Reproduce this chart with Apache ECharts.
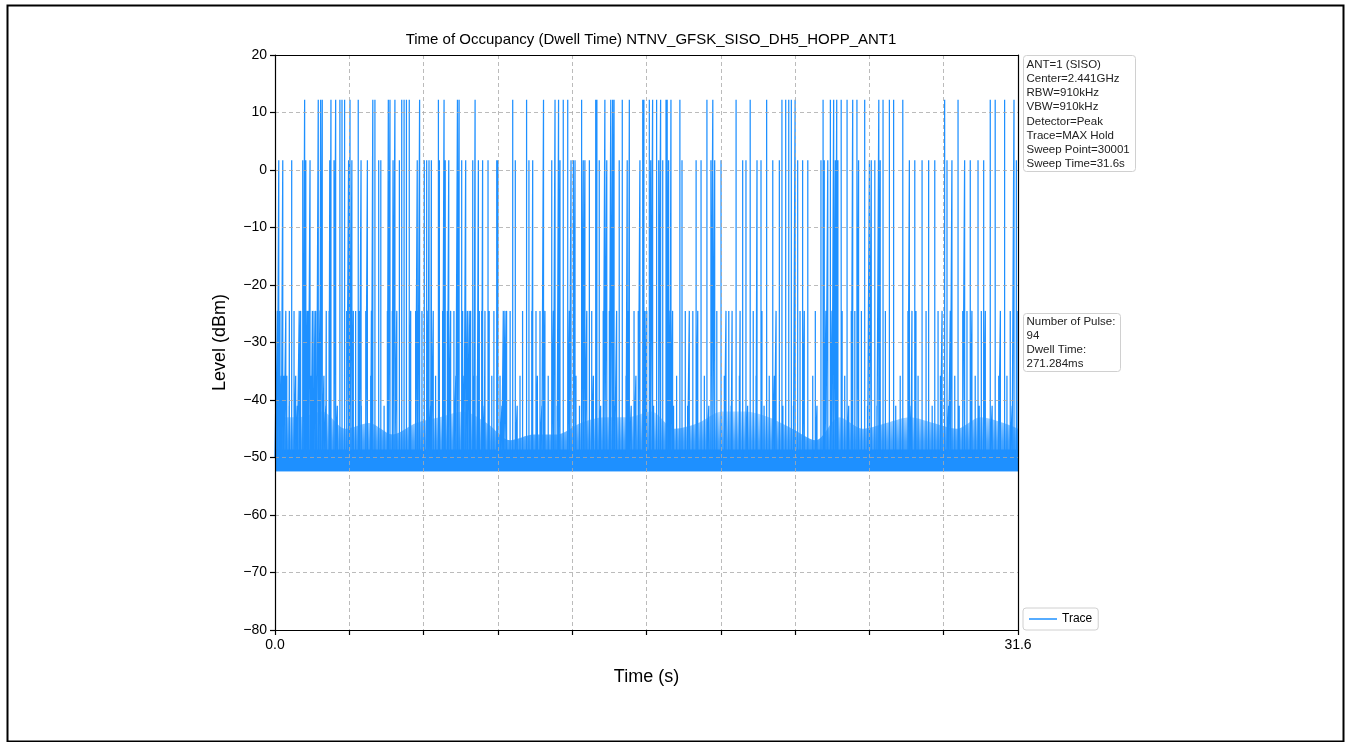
<!DOCTYPE html>
<html><head><meta charset="utf-8">
<script src="https://cdn.jsdelivr.net/npm/echarts@6/dist/echarts.min.js"></script>
<style>html,body{margin:0;padding:0;background:#fff}#c{width:1345px;height:742px}</style>
</head><body><div id="c"></div>
<script>
// ---- data (seconds) ----
const pulses12 = [1.26,1.84,1.94,2.01,2.38,2.58,2.76,2.85,2.96,3.19,3.54,4.16,4.25,4.82,4.89,5.10,5.39,5.49,5.59,5.71,6.15,6.95,7.19,7.76,7.83,8.51,10.11,10.70,11.42,11.91,12.06,12.26,12.45,13.04,13.64,13.69,14.03,14.28,14.36,14.42,14.77,15.07,15.64,15.69,15.92,16.06,16.23,16.40,16.63,16.68,16.84,17.22,18.37,18.62,19.61,20.21,20.91,21.56,21.72,21.85,21.96,22.12,23.31,23.62,23.76,23.89,24.08,24.33,24.57,24.75,25.08,25.68,25.86,26.13,26.31,26.70,28.48,29.05,30.42,30.63,31.03,31.43];
const pulses2 = [0.16,0.33,0.71,1.18,1.31,1.49,2.33,2.51,3.13,3.27,3.66,3.93,4.41,4.50,5.02,5.29,6.05,6.35,6.45,6.55,6.65,6.99,7.24,7.39,7.94,8.11,8.41,8.65,8.83,9.06,9.43,9.48,10.22,10.80,10.96,11.77,12.12,12.59,12.69,12.76,13.11,13.18,13.37,13.79,14.11,14.64,14.98,15.52,15.98,16.32,16.49,16.74,17.31,17.91,18.12,18.54,18.70,18.97,19.89,20.03,20.50,20.67,21.17,21.45,22.23,22.44,22.66,23.22,23.36,23.51,23.83,23.94,24.82,25.28,25.36,25.51,25.74,26.98,27.21,27.52,27.80,28.06,28.58,28.79,29.33,29.57,29.90,30.14,31.53];
const pulses24 = [0.10,0.21,0.46,0.61,0.81,1.03,1.09,1.20,1.37,1.42,1.59,1.66,1.73,1.91,2.18,2.30,3.05,3.33,3.43,3.59,3.86,4.10,4.78,4.99,5.18,5.77,5.98,6.08,6.25,6.51,6.73,7.13,7.33,7.47,7.61,7.98,8.18,8.26,8.32,8.69,8.79,8.93,9.11,9.31,9.71,9.78,9.85,10.00,10.53,10.92,11.10,11.27,11.48,11.84,12.52,13.26,13.47,13.96,14.22,14.53,15.03,15.27,15.45,15.74,15.81,16.80,16.91,17.45,17.62,17.77,17.98,18.79,19.18,19.30,19.44,19.78,20.34,20.71,21.31,22.33,22.51,22.98,23.43,23.69,24.12,24.51,24.66,24.94,25.96,26.92,27.09,27.26,27.69,28.20,28.37,28.72,29.25,29.43,29.64,30.04,30.21,30.85,31.27,31.56];
const pulses36 = [0.27,0.38,0.50,0.88,1.54,1.77,2.08,4.07,6.83,7.69,8.04,8.46,8.60,9.22,9.57,10.42,11.16,11.62,12.80,13.54,14.93,15.35,17.08,18.26,19.11,19.75,20.46,21.02,21.24,22.87,24.23,26.59,27.35,28.30,28.91,29.78,30.78,31.13];
const pulses41 = [0.03,0.60,0.95,1.63,2.16,2.65,3.67,4.64,6.62,8.90,9.65,10.30,11.35,12.00,12.95,13.85,14.45,15.15,16.10,16.95,17.55,18.45,19.40,20.10,20.80,21.60,22.05,23.05,24.40,25.20,25.60,26.40,27.05,27.95,28.65,29.10,29.95,30.50,31.35];
const pulseLevels = {p12: 12.2, p2: 1.7, p24: -24.5, p36: -35.8, p41: -41};
const baseLevel = -50;
const floorLow = -52.4;
const floorHigh = -48.6;
const grassTimes = [0,1,2,3,4,5,6,7,8,9,10,11,12,13,14,15,16,17,18,19,20,21,22,23,24,25,26,27,28,29,30,31,31.6];
const grassTop = [-43,-43,-42,-45,-44,-46,-44,-43,-42,-44,-47,-46,-46,-44,-43,-43,-42,-45,-44,-42,-42,-43,-45,-47,-43,-45,-44,-43,-44,-45,-43,-44,-45];
const yTicks = [-80,-70,-60,-50,-40,-30,-20,-10,0,10,20];
const xLabels = ['0.0','31.6'];
const sweepTime = 31.6;

// ---- build trace from pulse events ----
const events = [];
pulses41.forEach(t => events.push([t, pulseLevels.p41]));
pulses36.forEach(t => events.push([t, pulseLevels.p36]));
pulses24.forEach(t => events.push([t, pulseLevels.p24]));
pulses2.forEach(t => events.push([t, pulseLevels.p2]));
pulses12.forEach(t => events.push([t, pulseLevels.p12]));
events.sort((a,b) => a[0]-b[0]);
const trace = [[0, baseLevel]];
events.forEach(e => { trace.push([e[0], baseLevel], [e[0], e[1]], [e[0], baseLevel]); });
trace.push([sweepTime, baseLevel]);

const grass = grassTimes.map((t,i) => [t, grassTop[i]]);
const floorBand = [[0, floorHigh], [sweepTime, floorHigh]];

const blue = '#1E90FF';
const font = "'Liberation Sans', Arial, sans-serif";
const chart = echarts.init(document.getElementById('c'), null, {renderer: 'canvas'});

const frameAxis = {show: true, onZero: false, lineStyle: {color: '#000', width: 1.2}};
chart.setOption({
  animation: false,
  backgroundColor: '#fff',
  title: {
    text: 'Time of Occupancy (Dwell Time) NTNV_GFSK_SISO_DH5_HOPP_ANT1',
    left: 646, top: 27, textAlign: 'center',
    textStyle: {fontFamily: font, fontSize: 15, fontWeight: 'normal', color: '#000'}
  },
  grid: {left: 275, right: 327, top: 55, bottom: 112},
  legend: {
    data: [{name: 'Trace', icon: 'rect'}],
    left: 1023, top: 608, itemWidth: 28, itemHeight: 1.5, itemGap: 6,
    padding: [5, 6, 5, 6], borderColor: '#d0d0d0', borderWidth: 1, borderRadius: 3,
    backgroundColor: '#fff',
    textStyle: {fontFamily: font, fontSize: 12, color: '#000'}
  },
  xAxis: [{
    type: 'value', min: 0, max: sweepTime, interval: sweepTime / 10,
    name: 'Time (s)', nameLocation: 'middle', nameGap: 38,
    nameTextStyle: {fontFamily: font, fontSize: 18, color: '#000'},
    axisLine: frameAxis,
    axisTick: {show: true, inside: false, length: 5, lineStyle: {color: '#000', width: 1.2}},
    axisLabel: {
      fontFamily: font, fontSize: 14, color: '#000', margin: 8,
      showMinLabel: true, showMaxLabel: true,
      formatter: v => (Math.abs(v) < 1e-6 ? xLabels[0] : (Math.abs(v - sweepTime) < 1e-6 ? xLabels[1] : ''))
    },
    splitLine: {show: true, lineStyle: {color: '#aaaaaa', type: [4, 3], width: 0.8}},
    z: 5
  }, {
    type: 'value', position: 'top', min: 0, max: sweepTime,
    axisLine: frameAxis, axisTick: {show: false}, axisLabel: {show: false}, splitLine: {show: false}, z: 5
  }],
  yAxis: [{
    type: 'value', min: yTicks[0], max: yTicks[yTicks.length-1], interval: 10,
    name: 'Level (dBm)', nameLocation: 'middle', nameGap: 46,
    nameTextStyle: {fontFamily: font, fontSize: 18, color: '#000'},
    axisLine: frameAxis,
    axisTick: {show: true, inside: false, length: 5, lineStyle: {color: '#000', width: 1.2}},
    axisLabel: {fontFamily: font, fontSize: 14, color: '#000', margin: 8,
      formatter: v => (v < 0 ? '\u2212' + Math.abs(v) : String(v))},
    splitLine: {show: true, lineStyle: {color: '#aaaaaa', type: [4, 3], width: 0.8}},
    z: 5
  }, {
    type: 'value', position: 'right', min: yTicks[0], max: yTicks[yTicks.length-1],
    axisLine: frameAxis, axisTick: {show: false}, axisLabel: {show: false}, splitLine: {show: false}, z: 5
  }],
  series: [
    {
      name: 'grass', type: 'line', data: grass, showSymbol: false, silent: true,
      lineStyle: {width: 0}, smooth: 0.3,
      areaStyle: {origin: floorLow, opacity: 1,
        color: new echarts.graphic.LinearGradient(0, 0, 0, 1, [
          {offset: 0, color: 'rgba(30,144,255,0.3)'},
          {offset: 0.5, color: 'rgba(30,144,255,0.8)'},
          {offset: 1, color: 'rgba(30,144,255,1)'}
        ])},
      z: 2
    },
    {
      name: 'floor', type: 'line', data: floorBand, showSymbol: false, silent: true,
      lineStyle: {width: 0},
      areaStyle: {origin: floorLow, color: blue, opacity: 1},
      z: 2
    },
    {
      name: 'Trace', type: 'line', data: trace, showSymbol: false,
      color: blue, lineStyle: {color: blue, width: 1.25}, z: 3, clip: true
    }
  ],
  graphic: [
    {type: 'rect', left: 5, top: 3, shape: {width: 1336, height: 736}, style: {fill: 'none', stroke: '#000', lineWidth: 2}, silent: true},
    {type: 'group', left: 1023, top: 55, children: [
      {type: 'rect', shape: {x: 0, y: 0, width: 112, height: 116, r: 3}, style: {fill: '#fff', stroke: '#d0d0d0', lineWidth: 1}},
      {type: 'text', left: 3, top: 2, style: {text: 'ANT=1 (SISO)\nCenter=2.441GHz\nRBW=910kHz\nVBW=910kHz\nDetector=Peak\nTrace=MAX Hold\nSweep Point=30001\nSweep Time=31.6s', font: '11.5px ' + font, lineHeight: 14.2, fill: '#222'}}
    ]},
    {type: 'group', left: 1023, top: 313, children: [
      {type: 'rect', shape: {x: 0, y: 0, width: 97, height: 58, r: 3}, style: {fill: '#fff', stroke: '#d0d0d0', lineWidth: 1}},
      {type: 'text', left: 3, top: 1, style: {text: 'Number of Pulse:\n94\nDwell Time:\n271.284ms', font: '11.5px ' + font, lineHeight: 14.2, fill: '#222'}}
    ]}
  ]
});
</script></body></html>
